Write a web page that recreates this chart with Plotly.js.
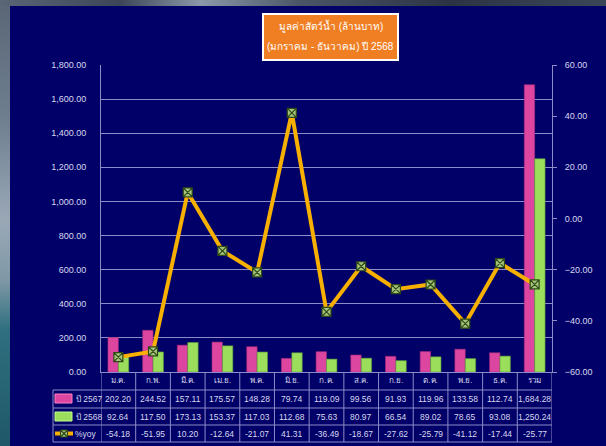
<!DOCTYPE html>
<html><head><meta charset="utf-8">
<script src="https://cdn.plot.ly/plotly-3.0.1.min.js"></script>
<style>
html,body{margin:0;padding:0;width:606px;height:446px;overflow:hidden;}
body{background:
 linear-gradient(180deg,#5a6676 0px,#6f7f90 120px,#9aa8b6 220px,#7f98a6 280px,#2f6f7f 330px,#1f5868 446px);}
#top{position:absolute;left:0;top:0;width:606px;height:6px;
 background:linear-gradient(90deg,#5a6676 0px,#3c4656 120px,#8a98a8 200px,#4a5666 300px,#2c3444 450px,#3a4656 606px);}
#chart{position:absolute;left:10px;top:6px;width:596px;height:440px;}
</style></head>
<body><div id="top"></div><div id="chart"></div>
<script>
const categories = ['ม.ค.','ก.พ.','มี.ค.','เม.ย.','พ.ค.','มิ.ย.','ก.ค.','ส.ค.','ก.ย.','ต.ค.','พ.ย.','ธ.ค.','รวม'];
const y2567 = [202.20,244.52,157.11,175.57,148.28,79.74,119.09,99.56,91.93,119.96,133.58,112.74,1684.28];
const y2568 = [92.64,117.50,173.13,153.37,117.03,112.68,75.63,80.97,66.54,89.02,78.65,93.08,1250.24];
const yoy = [-54.18,-51.95,10.20,-12.64,-21.07,41.31,-36.49,-18.67,-27.62,-25.79,-41.12,-17.44,-25.77];
const seriesNames = ['ปี 2567','ปี 2568','%yoy'];
const titleLines = ['มูลค่าสัตว์น้ำ (ล้านบาท)','(มกราคม - ธันวาคม) ปี 2568'];

const FONT = 'Liberation Sans, DejaVu Sans, sans-serif';
const TXT = '#d8d8ee';
const GRID = '#8c8cc8';
const PINK = '#dc45a0', GREEN = '#9ade5c', LINE = '#f8b000';

// layout geometry (pixels within chart div)
const L = 91, R = 54, T = 59, B = 74, W = 596, H = 440;
const PW = W - L - R, PH = H - T - B;
const px = p => (p - L) / PW;          // chart-div x px -> paper
const py = o => -o / PH;               // offset below plot bottom -> paper
const pyTop = p => (H - B - p) / PH;   // chart-div y px -> paper
const rows = [18, 36, 53, 70];         // row boundaries below axis
const legX = px(43);
const N = categories.length;

const fmt = v => v.toLocaleString('en-US',{minimumFractionDigits:2,maximumFractionDigits:2});

const traces = [
  {type:'bar', name:seriesNames[0], x:categories, y:y2567, marker:{color:PINK, line:{color:'#a82a78',width:0.6}}},
  {type:'bar', name:seriesNames[1], x:categories, y:y2568, marker:{color:GREEN, line:{color:'#5a9a38',width:0.6}}},
  {type:'scatter', mode:'lines+markers', name:seriesNames[2], x:categories, y:yoy, yaxis:'y2',
   line:{color:LINE, width:4}, marker:{symbol:'square-x', size:9, color:'#a6c47a', line:{color:'#2e4a18', width:1.2}}}
];

const shapes = [];
const annotations = [];
// vertical table lines
for (let i = 0; i <= N; i++) {
  shapes.push({type:'line', xref:'x', yref:'paper', x0:i-0.5, x1:i-0.5, y0:0, y1:py(rows[3]), line:{color:GRID,width:1}});
}
// horizontal table lines
rows.forEach(r => shapes.push({type:'line', xref:'paper', yref:'paper', x0:legX, x1:1, y0:py(r), y1:py(r), line:{color:GRID,width:1}}));
shapes.push({type:'line', xref:'paper', yref:'paper', x0:legX, x1:legX, y0:py(rows[0]), y1:py(rows[3]), line:{color:GRID,width:1}});
// legend keys
shapes.push({type:'rect', xref:'paper', yref:'paper', x0:px(45), x1:px(62), y0:py(22), y1:py(31), fillcolor:PINK, line:{color:'#ff80c0',width:1}});
shapes.push({type:'rect', xref:'paper', yref:'paper', x0:px(45), x1:px(62), y0:py(40), y1:py(49), fillcolor:GREEN, line:{color:'#c0ff90',width:1}});
shapes.push({type:'line', xref:'paper', yref:'paper', x0:px(45), x1:px(63), y0:py(61.5), y1:py(61.5), line:{color:LINE,width:4}});
shapes.push({type:'rect', xref:'paper', yref:'paper', x0:px(50.5), x1:px(57.5), y0:py(58), y1:py(65), fillcolor:'#a6c47a', line:{color:'#2e4a18',width:1}});
shapes.push({type:'line', xref:'paper', yref:'paper', x0:px(51), x1:px(57), y0:py(58.5), y1:py(64.5), line:{color:'#2e4a18',width:1.2}});
shapes.push({type:'line', xref:'paper', yref:'paper', x0:px(51), x1:px(57), y0:py(64.5), y1:py(58.5), line:{color:'#2e4a18',width:1.2}});
// title box
shapes.push({type:'rect', xref:'paper', yref:'paper', x0:px(253), x1:px(388), y0:pyTop(8), y1:pyTop(54), fillcolor:'#f07e22', line:{color:'#ffffff',width:2}});

// row labels
const rowCenters = [(rows[0]+rows[1])/2, (rows[1]+rows[2])/2, (rows[2]+rows[3])/2];
seriesNames.forEach((n,k) => annotations.push({xref:'paper', yref:'paper', x:px(k===2?63:63.5), y:py(rowCenters[k]), xanchor:'left', yanchor:'middle', showarrow:false, text:n, font:{family:FONT,size:8.5,color:TXT}}));
// table values
[y2567, y2568, yoy].forEach((arr,k) => arr.forEach((v,i) => annotations.push({
  xref:'x', yref:'paper', x:i, y:py(rowCenters[k]), xanchor:'center', yanchor:'middle', showarrow:false,
  text:fmt(v), font:{family:FONT,size:8.5,color:TXT}})));
// title text
titleLines.forEach((t,k) => annotations.push({xref:'paper', yref:'paper', x:px(320.5), y:pyTop(k===0?20:41), xanchor:'center', yanchor:'middle',
  showarrow:false, text:t, font:{family:FONT,size:10,color:'#ffffff'}}));

const layout = {
  width:W, height:H, margin:{l:L, r:R, t:T, b:B},
  paper_bgcolor:'#000068', plot_bgcolor:'#000068',
  showlegend:false, barmode:'group', bargap:0.4, bargroupgap:0,
  font:{family:FONT, size:9, color:TXT},
  xaxis:{type:'category', range:[-0.5, N-0.5], autorange:false, showgrid:false, showline:true, linecolor:GRID, linewidth:1, ticks:'', tickfont:{size:8,color:TXT}, fixedrange:true},
  yaxis:{range:[0,1800], dtick:200, tickformat:',.2f', showgrid:true, gridcolor:GRID, gridwidth:1, showline:true, linecolor:GRID,
         ticks:'', ticklabelstandoff:12, tickfont:{size:9,color:TXT}, zeroline:false},
  yaxis2:{range:[-60,60], dtick:20, tickformat:'.2f', overlaying:'y', side:'right', showgrid:false, showline:true, linecolor:GRID,
          ticks:'outside', ticklen:4, tickcolor:GRID, tickfont:{size:9,color:TXT}, zeroline:false, ticklabelstandoff:6},
  shapes, annotations
};
Plotly.newPlot('chart', traces, layout, {displayModeBar:false, staticPlot:true});
</script></body></html>
